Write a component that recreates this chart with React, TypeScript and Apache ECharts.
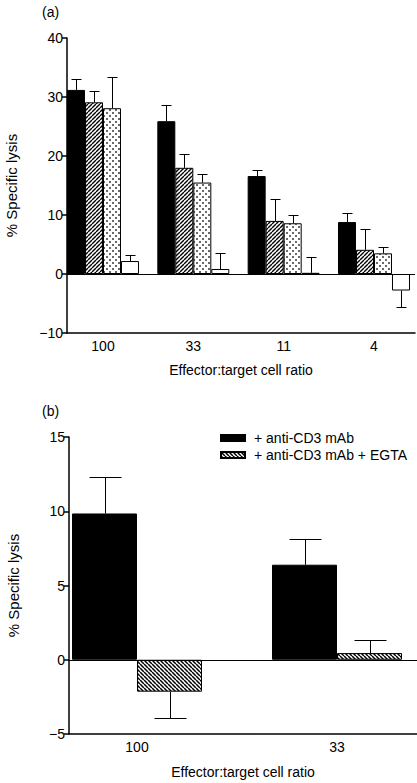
import React, { useEffect, useRef } from "react";
import * as echarts from "echarts";

// ---------- Data ----------
const categoriesA = ["100", "33", "11", "4"];
const seriesNamesA = ["Condition 1", "Condition 2", "Condition 3", "Condition 4"];
const aBlack = [31.2, 25.9, 16.6, 8.8];
const aBlackSd = [1.9, 2.8, 1.1, 1.5];
const aHatch = [29.1, 18.0, 9.0, 4.1];
const aHatchSd = [1.9, 2.3, 3.7, 3.5];
const aDots = [28.1, 15.5, 8.6, 3.5];
const aDotsSd = [5.3, 1.4, 1.35, 1.0];
const aWhite = [2.2, 0.85, 0.2, -2.8];
const aWhiteSd = [1.1, 2.65, 2.7, 2.85];
const yTicksA = { min: -10, max: 40, interval: 10 };

const categoriesB = ["100", "33"];
const seriesNamesB = ["+ anti-CD3 mAb", "+ anti-CD3 mAb + EGTA"];
const bMab = [9.85, 6.4];
const bMabSd = [2.45, 1.75];
const bEgta = [-2.15, 0.45];
const bEgtaSd = [1.75, 0.87];
const yTicksB = { min: -5, max: 15, interval: 5 };

const FONT = '"Liberation Sans", Arial, Helvetica, sans-serif';

function hatch(size: number, dir: string, lw: number) {
  const c = document.createElement("canvas");
  c.width = size;
  c.height = size;
  const g = c.getContext("2d")!;
  g.fillStyle = "#fff";
  g.fillRect(0, 0, size, size);
  g.strokeStyle = "#000";
  g.lineWidth = lw;
  g.beginPath();
  for (const o of [-size, 0, size]) {
    if (dir === "/") {
      g.moveTo(o, size);
      g.lineTo(o + size, 0);
    } else {
      g.moveTo(o, 0);
      g.lineTo(o + size, size);
    }
  }
  g.stroke();
  return { image: c, repeat: "repeat" };
}

function dots() {
  const s = 6;
  const c = document.createElement("canvas");
  c.width = s;
  c.height = s;
  const g = c.getContext("2d")!;
  g.fillStyle = "#fff";
  g.fillRect(0, 0, s, s);
  g.fillStyle = "#6a6a6a";
  g.fillRect(1, 1, 2, 2);
  g.fillRect(4, 4, 2, 2);
  return { image: c, repeat: "repeat" };
}

function errRender(barW: number, capW: number, n: number) {
  return (params: any, api: any) => {
    const x = api.value(0);
    const s = api.value(1);
    const v = api.value(2);
    const sd = api.value(3);
    const end = v >= 0 ? v + sd : v - sd;
    const p0 = api.coord([x, v]);
    const p1 = api.coord([x, end]);
    const cx = Math.round(p0[0] + (s - (n - 1) / 2) * barW) + 0.5;
    const y1 = Math.round(p1[1]) + 0.5;
    return {
      type: "group",
      children: [
        { type: "line", shape: { x1: cx, y1: p0[1], x2: cx, y2: y1 }, style: { stroke: "#000", lineWidth: 1 } },
        { type: "line", shape: { x1: cx - capW / 2, y1, x2: cx + capW / 2, y2: y1 }, style: { stroke: "#000", lineWidth: 1 } },
      ],
    };
  };
}

const minusFmt = (v: number) => (v < 0 ? "\u2212" + Math.abs(v) : String(v));

export default function App() {
  const ref = useRef<HTMLDivElement>(null);
  useEffect(() => {
    if (!ref.current) return;
    const chart = echarts.init(ref.current, undefined, { renderer: "svg" });

    const valsA = [aBlack, aHatch, aDots, aWhite];
    const sdsA = [aBlackSd, aHatchSd, aDotsSd, aWhiteSd];
    const fillsA: any[] = ["#000", hatch(4, "/", 1.4), dots(), "#fff"];
    const valsB = [bMab, bEgta];
    const sdsB = [bMabSd, bEgtaSd];
    const fillsB: any[] = ["#000", hatch(4, "\\", 1.5)];

    const zeroLine = {
      silent: true,
      symbol: ["none", "none"],
      label: { show: false },
      lineStyle: { color: "#000", width: 1, type: "solid" },
      data: [{ yAxis: 0 }],
    };

    const barsA = valsA.map((vals, s) => ({
      type: "bar",
      name: seriesNamesA[s],
      xAxisIndex: 0,
      yAxisIndex: 0,
      barWidth: 18,
      barGap: "0%",
      itemStyle: { color: fillsA[s], borderColor: "#000", borderWidth: 1 },
      data: vals.map((v, i) => [i, v]),
      markLine: s === 0 ? zeroLine : undefined,
    }));
    const barsB = valsB.map((vals, s) => ({
      type: "bar",
      name: seriesNamesB[s],
      xAxisIndex: 1,
      yAxisIndex: 1,
      barWidth: 65,
      barGap: "0%",
      itemStyle: { color: fillsB[s], borderColor: "#000", borderWidth: 1 },
      data: vals.map((v, i) => [i, v]),
      markLine: s === 0 ? zeroLine : undefined,
    }));

    const errDataA: number[][] = [];
    valsA.forEach((vals, s) => vals.forEach((v, i) => errDataA.push([i, s, v, sdsA[s][i]])));
    const errDataB: number[][] = [];
    valsB.forEach((vals, s) => vals.forEach((v, i) => errDataB.push([i, s, v, sdsB[s][i]])));

    const xAxisCommon = {
      type: "value",
      axisLine: { show: true, onZero: false, lineStyle: { color: "#000", width: 1.5 } },
      axisTick: { show: false },
      splitLine: { show: false },
      name: "Effector:target cell ratio",
      nameLocation: "middle",
      nameMoveOverlap: false,
      nameTextStyle: { fontSize: 14, color: "#000", fontFamily: FONT },
    };
    const yAxisCommon = {
      type: "value",
      axisLine: { show: true, onZero: false, lineStyle: { color: "#000", width: 1.5 } },
      axisTick: { show: true, length: 5, lineStyle: { color: "#000", width: 1.5 } },
      splitLine: { show: false },
      axisLabel: { color: "#000", fontSize: 14, margin: 4, fontFamily: FONT, formatter: minusFmt },
      name: "% Specific lysis",
      nameLocation: "middle",
      nameMoveOverlap: false,
      nameGap: 48,
      nameTextStyle: { fontSize: 15, color: "#000", fontFamily: FONT },
    };

    chart.setOption({
      animation: false,
      backgroundColor: "#fff",
      textStyle: { fontFamily: FONT, color: "#000" },
      title: [
        { text: "(a)", left: 42, top: 5, padding: 0, textStyle: { fontSize: 14, fontWeight: "normal", color: "#000", fontFamily: FONT } },
        { text: "(b)", left: 42, top: 404, padding: 0, textStyle: { fontSize: 14, fontWeight: "normal", color: "#000", fontFamily: FONT } },
      ],
      legend: {
        data: seriesNamesB,
        orient: "vertical",
        left: 220,
        top: 431,
        itemWidth: 24,
        itemHeight: 6,
        itemGap: 3,
        icon: "rect",
        padding: 0,
        textStyle: { fontSize: 14, color: "#000", fontFamily: FONT, padding: [0, 0, 0, 4] },
      },
      grid: [
        { left: 67, top: 38, right: 2, bottom: 450, outerBoundsMode: "none", containLabel: false },
        { left: 69, top: 437, right: 0, bottom: 49, outerBoundsMode: "none", containLabel: false },
      ],
      xAxis: [
        {
          ...xAxisCommon,
          gridIndex: 0,
          min: -0.3985,
          max: 3.454,
          nameGap: 30,
          axisLabel: {
            customValues: [0, 1, 2, 3],
            formatter: (v: number) => categoriesA[Math.round(v)],
            color: "#000",
            fontSize: 14,
            margin: 6,
            fontFamily: FONT,
          },
        },
        {
          ...xAxisCommon,
          gridIndex: 1,
          min: -0.34,
          max: 1.4,
          nameGap: 31,
          axisLabel: {
            customValues: [0, 1],
            formatter: (v: number) => categoriesB[Math.round(v)],
            color: "#000",
            fontSize: 14,
            margin: 6,
            fontFamily: FONT,
          },
        },
      ],
      yAxis: [
        { ...yAxisCommon, gridIndex: 0, ...yTicksA },
        { ...yAxisCommon, gridIndex: 1, ...yTicksB },
      ],
      series: [
        ...barsA,
        ...barsB,
        {
          type: "custom",
          name: "err-a",
          xAxisIndex: 0,
          yAxisIndex: 0,
          renderItem: errRender(18, 10, 4),
          encode: { x: 0, y: [2, 3] },
          data: errDataA,
          silent: true,
          z: 1,
        },
        {
          type: "custom",
          name: "err-b",
          xAxisIndex: 1,
          yAxisIndex: 1,
          renderItem: errRender(65, 32, 2),
          encode: { x: 0, y: [2, 3] },
          data: errDataB,
          silent: true,
          z: 1,
        },
      ],
    });
    return () => chart.dispose();
  }, []);
  return <div ref={ref} style={{ position: "fixed", left: 0, top: 0, width: 417, height: 783 }} />;
}
